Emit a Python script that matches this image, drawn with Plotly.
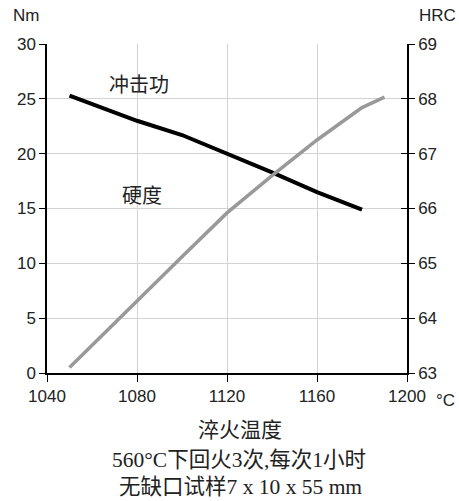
import plotly.graph_objects as go

# Data
temp_impact = [1050, 1080, 1100, 1120, 1140, 1160, 1180]
impact_nm = [25.3, 23.0, 21.7, 20.0, 18.3, 16.5, 14.9]

temp_hard = [1050, 1080, 1100, 1120, 1140, 1160, 1180, 1190]
hardness_hrc = [63.1, 64.32, 65.12, 65.92, 66.6, 67.25, 67.84, 68.03]

x_ticks = [1040, 1080, 1120, 1160, 1200]
y1_ticks = [0, 5, 10, 15, 20, 25, 30]
y2_ticks = [63, 64, 65, 66, 67, 68, 69]

W, H = 459, 501
L, T = 47, 44
R, B = W - 407, H - 373
pw, ph = W - L - R, H - T - B

def px(x):
    return (x - L) / pw

def py(y):
    return (H - B - y) / ph

sans = "Liberation Sans, Arial, sans-serif"
serif = "Liberation Serif, Noto Sans CJK SC, serif"
cjk = "Noto Sans CJK SC, sans-serif"

fig = go.Figure()
fig.add_trace(go.Scatter(x=temp_impact, y=impact_nm, mode="lines",
                         line=dict(color="black", width=4), yaxis="y",
                         showlegend=False, hoverinfo="skip"))
fig.add_trace(go.Scatter(x=temp_hard, y=hardness_hrc, mode="lines",
                         line=dict(color="#999999", width=3.5), yaxis="y2",
                         showlegend=False, hoverinfo="skip"))
# invisible trace so the inner-tick axis is drawn
fig.add_trace(go.Scatter(x=[1040], y=[63], mode="markers", opacity=0,
                         yaxis="y3", showlegend=False, hoverinfo="skip"))

fig.update_layout(
    width=W, height=H,
    margin=dict(l=L, r=R, t=T, b=B),
    paper_bgcolor="white", plot_bgcolor="white",
    xaxis=dict(range=[1040, 1200], tickvals=x_ticks, ticktext=[str(v) for v in x_ticks],
               showgrid=True, gridcolor="#d3d3d3", gridwidth=1.3,
               showline=True, linecolor="black", linewidth=1.5,
               ticks="outside", ticklen=7, tickwidth=1.3, tickcolor="black",
               tickfont=dict(family=sans, size=17, color="#222"), zeroline=False),
    yaxis=dict(range=[0, 30], tickvals=y1_ticks, showgrid=True, gridcolor="#d3d3d3",
               gridwidth=1.3, showline=True, linecolor="black", linewidth=1.5,
               ticks="outside", ticklen=6, tickwidth=1.3, tickcolor="black",
               tickfont=dict(family=sans, size=17, color="#222"), zeroline=False),
    yaxis2=dict(range=[63, 69], tickvals=y2_ticks, overlaying="y", side="right",
                showgrid=False, showline=True, linecolor="black", linewidth=1.5,
                ticks="outside", ticklen=6, tickwidth=1.3, tickcolor="black",
                tickfont=dict(family=sans, size=17, color="#222"), zeroline=False),
    yaxis3=dict(range=[63, 69], tickvals=y2_ticks, overlaying="y", side="right",
                showgrid=False, showline=False, showticklabels=False,
                ticks="inside", ticklen=6, tickwidth=1.3, tickcolor="black",
                zeroline=False),
)

ann = [
    ("Nm", 26, 15, sans, 17),
    ("HRC", 438, 15, sans, 17),
    ("°C", 445, 400, sans, 17),
    ("冲击功", 139, 83, cjk, 20),
    ("硬度", 142, 194, cjk, 20),
    ("淬火温度", 240, 430, serif, 21),
    ("560°C下回火3次,每次1小时", 239, 460, serif, 21.5),
    ("无缺口试样7 x 10 x 55 mm", 240, 487, serif, 21.5),
]
for text, x, y, fam, size in ann:
    fig.add_annotation(text=text, x=px(x), y=py(y), xref="paper", yref="paper",
                       showarrow=False, xanchor="center", yanchor="middle",
                       font=dict(family=fam, size=size, color="#222"))

fig.write_html("out.html",
               config={"displayModeBar": False},
               post_script="document.body.style.margin='0';document.body.style.overflow='hidden';")
